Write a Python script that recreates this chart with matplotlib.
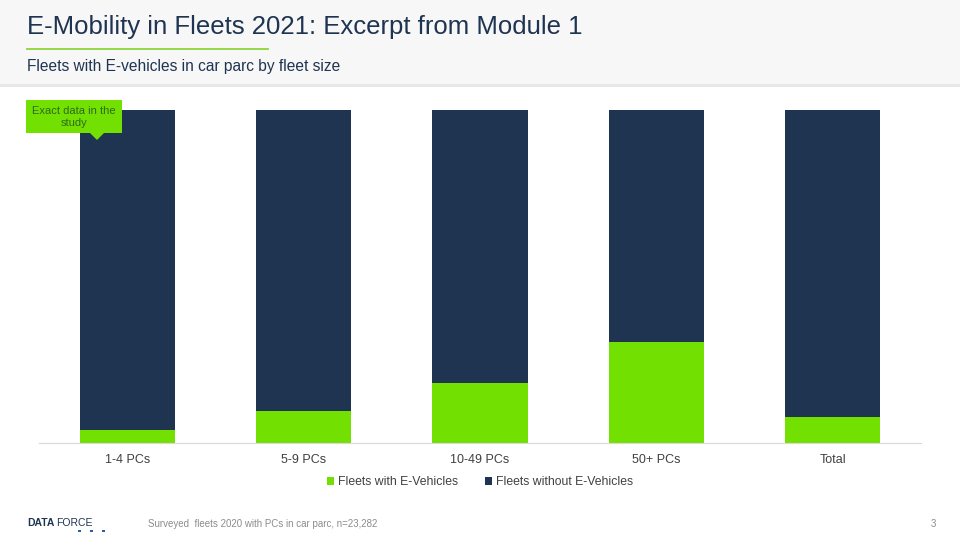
import matplotlib
matplotlib.use("Agg")
import matplotlib.pyplot as plt
from matplotlib.patches import Rectangle, Polygon
import numpy as np

categories = ["1-4 PCs", "5-9 PCs", "10-49 PCs", "50+ PCs", "Total"]
with_ev = [3.9, 9.6, 18.0, 30.3, 7.8]
without_ev = [100 - v for v in with_ev]
series_names = ["Fleets with E-Vehicles", "Fleets without E-Vehicles"]

GREEN = "#72E000"
NAVY = "#1F3451"

plt.rcParams['font.family'] = ['Liberation Sans', 'DejaVu Sans']

fig = plt.figure(figsize=(9.6, 5.4), dpi=100)
W, H = 960, 540

# Header band
fig.patches.append(Rectangle((0, 1 - 84 / H), 1, 84 / H, transform=fig.transFigure,
                             facecolor="#F7F7F7", edgecolor="none", zorder=0))
fig.patches.append(Rectangle((0, 1 - 87 / H), 1, 3 / H, transform=fig.transFigure,
                             facecolor="#E8E8E8", edgecolor="none", zorder=0))
fig.text(27 / W, 1 - 27 / H, "E-Mobility in Fleets 2021: Excerpt from Module 1",
         fontsize=18.5, color="#1F3451", va="center", ha="left")
fig.add_artist(plt.Line2D([27 / W, 268 / W], [1 - 48.5 / H, 1 - 48.5 / H],
                          transform=fig.transFigure, color="#8CD43C", lw=1.3))
fig.text(27 / W, 1 - 66 / H, "Fleets with E-vehicles in car parc by fleet size",
         fontsize=11.2, color="#1F3451", va="center", ha="left")

# Axes
ax = fig.add_axes([39 / W, 1 - 443 / H, (921 - 39) / W, (443 - 110) / H])
x = np.arange(len(categories))
ax.bar(x, with_ev, width=0.54, color=GREEN, label=series_names[0], zorder=2)
ax.bar(x, without_ev, width=0.54, bottom=with_ev, color=NAVY, label=series_names[1], zorder=2)
ax.set_xlim(-0.5, len(categories) - 0.5)
ax.set_ylim(0, 100)
ax.set_yticks([])
for s in ["top", "right", "left"]:
    ax.spines[s].set_visible(False)
ax.spines["bottom"].set_color("#D9D9D9")
ax.set_xticks(x)
ax.set_xticklabels(categories, fontsize=9, color="#404040")
ax.tick_params(axis="x", length=0, pad=8)

ax.legend(loc="upper center", bbox_to_anchor=(0.5, -0.066), ncol=2, frameon=False,
          fontsize=8.8, handlelength=0.6, handleheight=0.6, handletextpad=0.3,
          columnspacing=2.2, labelcolor="#404040")

# Callout
fig.patches.append(Rectangle((26 / W, 1 - 133 / H), 96 / W, 33 / H, transform=fig.transFigure,
                             facecolor=GREEN, edgecolor="none", zorder=5))
fig.patches.append(Polygon([(90 / W, 1 - 133 / H), (104 / W, 1 - 133 / H), (97 / W, 1 - 140 / H)],
                           closed=True, transform=fig.transFigure, facecolor=GREEN,
                           edgecolor="none", zorder=5))
fig.text(74 / W, 1 - 116.5 / H, "Exact data in the\nstudy", fontsize=8, color="#2E6B1A",
         ha="center", va="center", linespacing=1.25, zorder=6)

# Footer
fig.text(27 / W, 1 - 523 / H, "DATA", fontsize=7.5, fontweight="bold", color="#1F3451",
         va="center", ha="left")
fig.text(56 / W, 1 - 523 / H, "FORCE", fontsize=7.5, color="#1F3451", va="center", ha="left")
for px in [78, 90, 102]:
    fig.patches.append(Rectangle((px / W, 1 - 532 / H), 2.5 / W, 2.5 / H,
                                 transform=fig.transFigure, facecolor="#2B5CA8", edgecolor="none"))
fig.text(148 / W, 1 - 524 / H, "Surveyed  fleets 2020 with PCs in car parc, n=23,282",
         fontsize=7, color="#8C8C8C", va="center", ha="left")
fig.text(936 / W, 1 - 524 / H, "3", fontsize=7, color="#8C8C8C", va="center", ha="right")

fig.savefig("out.png", dpi=100, facecolor="white")
